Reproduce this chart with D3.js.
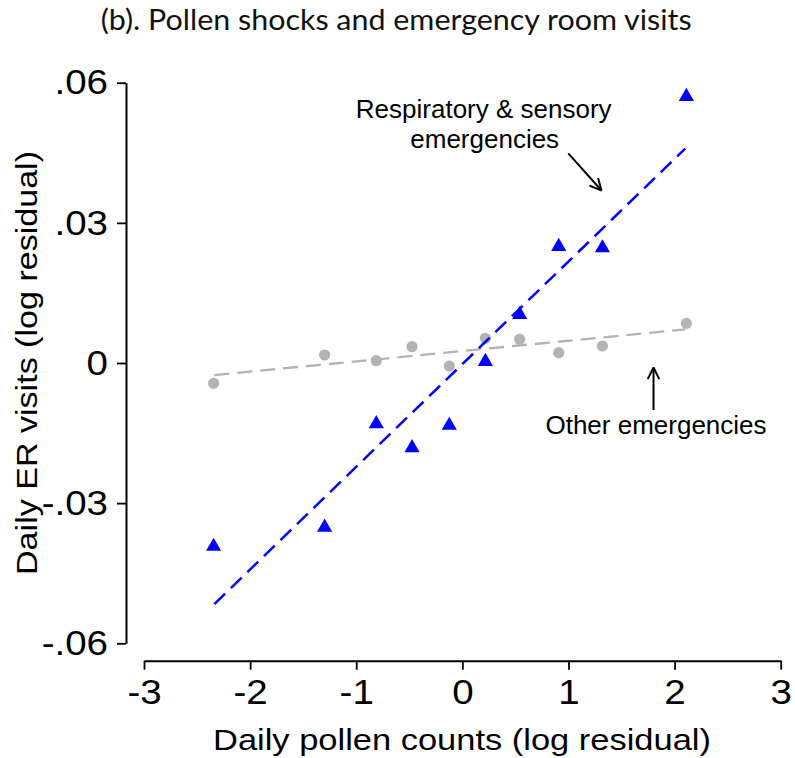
<!DOCTYPE html>
<html>
<head>
<meta charset="utf-8">
<script src="https://cdn.jsdelivr.net/npm/d3@7"></script>
<style>
  html, body { margin: 0; padding: 0; background: #fff; }
  svg { display: block; }
</style>
</head>
<body>
<svg id="chart" width="795" height="758"></svg>
<script>
// ---- data ----
const pollenX   = [-2.344, -1.298, -0.811, -0.474, -0.123, 0.217, 0.540, 0.908, 1.320, 2.111];
const respY     = [-0.0388, -0.0347, -0.01256, -0.0177, -0.0129, 0.00079, 0.01085, 0.0254, 0.0251, 0.0575];
const otherY    = [-0.00434, 0.00171, 0.00049, 0.00349, -0.00064, 0.00528, 0.00507, 0.0022, 0.00364, 0.0085];
const respFitX  = [-2.337, 2.10];
const respFitY  = [-0.0516, 0.0459];
const otherFitX = [-2.337, 2.10];
const otherFitY = [-0.0026, 0.0072];
const xTicks = [-3, -2, -1, 0, 1, 2, 3];
const xTickLabels = ["-3", "-2", "-1", "0", "1", "2", "3"];
const yTicks = [0.06, 0.03, 0, -0.03, -0.06];
const yTickLabels = [".06", ".03", "0", "-.03", "-.06"];
const titleText = "(b). Pollen shocks and emergency room visits";
const xTitle = "Daily pollen counts (log residual)";
const yTitle = "Daily ER visits (log residual)";
const respLabel = ["Respiratory & sensory", "emergencies"];
const otherLabel = "Other emergencies";

// ---- drawing ----
const svg = d3.select("#chart");
const x = d3.scaleLinear().domain([-3, 3]).range([144, 780.7]);
const y = d3.scaleLinear().domain([-0.06, 0.06]).range([643.3, 82.7]);
const axisFont = "'Liberation Sans', Arial, sans-serif";
const stretch = 1.1;

// Title
svg.append("text")
  .attr("x", 100.7).attr("y", 29.5)
  .attr("font-family", "Lato, 'Noto Sans', sans-serif")
  .attr("font-size", 28.5)
  .attr("textLength", 591).attr("lengthAdjust", "spacingAndGlyphs")
  .attr("fill", "#111")
  .text(titleText);

// X axis
const xAxisG = svg.append("g").attr("transform", "translate(0,660.7)")
  .call(d3.axisBottom(x).tickValues(xTicks)
    .tickFormat((d, i) => xTickLabels[i])
    .tickSizeInner(9).tickSizeOuter(0).tickPadding(9));
xAxisG.select(".domain").attr("stroke", "#000").attr("stroke-width", 2);
xAxisG.selectAll(".tick line").attr("stroke", "#000").attr("stroke-width", 1.8);
xAxisG.selectAll(".tick text").attr("font-family", axisFont).attr("font-size", 35).attr("fill", "#000")
  .attr("transform", `scale(${stretch},1)`);

// Y axis
const yAxisG = svg.append("g").attr("transform", "translate(126,0)")
  .call(d3.axisLeft(y).tickValues(yTicks)
    .tickFormat((d, i) => yTickLabels[i])
    .tickSizeInner(9).tickSizeOuter(0).tickPadding(9));
yAxisG.select(".domain").attr("stroke", "#000").attr("stroke-width", 2);
yAxisG.selectAll(".tick line").attr("stroke", "#000").attr("stroke-width", 1.8);
yAxisG.selectAll(".tick text").attr("font-family", axisFont).attr("font-size", 35).attr("fill", "#000")
  .attr("x", -18 / stretch)
  .attr("transform", `scale(${stretch},1)`);

// Axis titles
svg.append("text")
  .attr("x", 462).attr("y", 750)
  .attr("text-anchor", "middle")
  .attr("font-family", axisFont).attr("font-size", 30)
  .attr("textLength", 498).attr("lengthAdjust", "spacingAndGlyphs")
  .text(xTitle);
svg.append("text")
  .attr("transform", "translate(37,363) rotate(-90)")
  .attr("text-anchor", "middle")
  .attr("font-family", axisFont).attr("font-size", 30)
  .attr("textLength", 424).attr("lengthAdjust", "spacingAndGlyphs")
  .text(yTitle);

const pts = pollenX.map((v, i) => ({ x: v, r: respY[i], o: otherY[i] }));

// Other emergencies points
svg.append("g").selectAll("circle").data(pts).join("circle")
  .attr("cx", d => x(d.x)).attr("cy", d => y(d.o)).attr("r", 5.6)
  .attr("fill", "#b3b3b3");

// Respiratory points (triangle centred on its bounding box)
const triSize = 100;
const triSide = Math.sqrt(4 * triSize / Math.sqrt(3));
const triShift = (triSide * Math.sqrt(3) / 2) / 6;
const tri = d3.symbol().type(d3.symbolTriangle).size(triSize);
svg.append("g").selectAll("path").data(pts).join("path")
  .attr("d", tri)
  .attr("transform", d => `translate(${x(d.x)},${y(d.r) + triShift})`)
  .attr("fill", "#0000ff");

// Fit lines
const line = d3.line().x(d => x(d[0])).y(d => y(d[1]));
svg.append("path")
  .datum(otherFitX.map((v, i) => [v, otherFitY[i]]))
  .attr("d", line).attr("fill", "none")
  .attr("stroke", "#b3b3b3").attr("stroke-width", 2.3)
  .attr("stroke-dasharray", "15,8");
svg.append("path")
  .datum(respFitX.map((v, i) => [v, respFitY[i]]))
  .attr("d", line).attr("fill", "none")
  .attr("stroke", "#0000ff").attr("stroke-width", 2.5)
  .attr("stroke-dasharray", "15,8");

// Annotations
const ann = svg.append("g").attr("font-family", axisFont).attr("font-size", 26).attr("fill", "#000");
ann.append("text").attr("x", 483.7).attr("y", 118.3).attr("text-anchor", "middle").text(respLabel[0]);
ann.append("text").attr("x", 484.7).attr("y", 148.3).attr("text-anchor", "middle").text(respLabel[1]);
ann.append("text").attr("x", 656).attr("y", 434).attr("text-anchor", "middle").text(otherLabel);

function arrow(x1, y1, x2, y2) {
  const g = svg.append("g").attr("stroke", "#000").attr("stroke-width", 2).attr("fill", "none");
  g.append("line").attr("x1", x1).attr("y1", y1).attr("x2", x2).attr("y2", y2);
  const ang = Math.atan2(y2 - y1, x2 - x1);
  const L = 13, a = 0.46;
  [ang + Math.PI - a, ang + Math.PI + a].forEach(t => {
    g.append("line").attr("x1", x2).attr("y1", y2)
      .attr("x2", x2 + L * Math.cos(t)).attr("y2", y2 + L * Math.sin(t));
  });
}
arrow(568.3, 153.3, 601.5, 190.5);
arrow(653.5, 410, 653.5, 367.5);
</script>
</body>
</html>
